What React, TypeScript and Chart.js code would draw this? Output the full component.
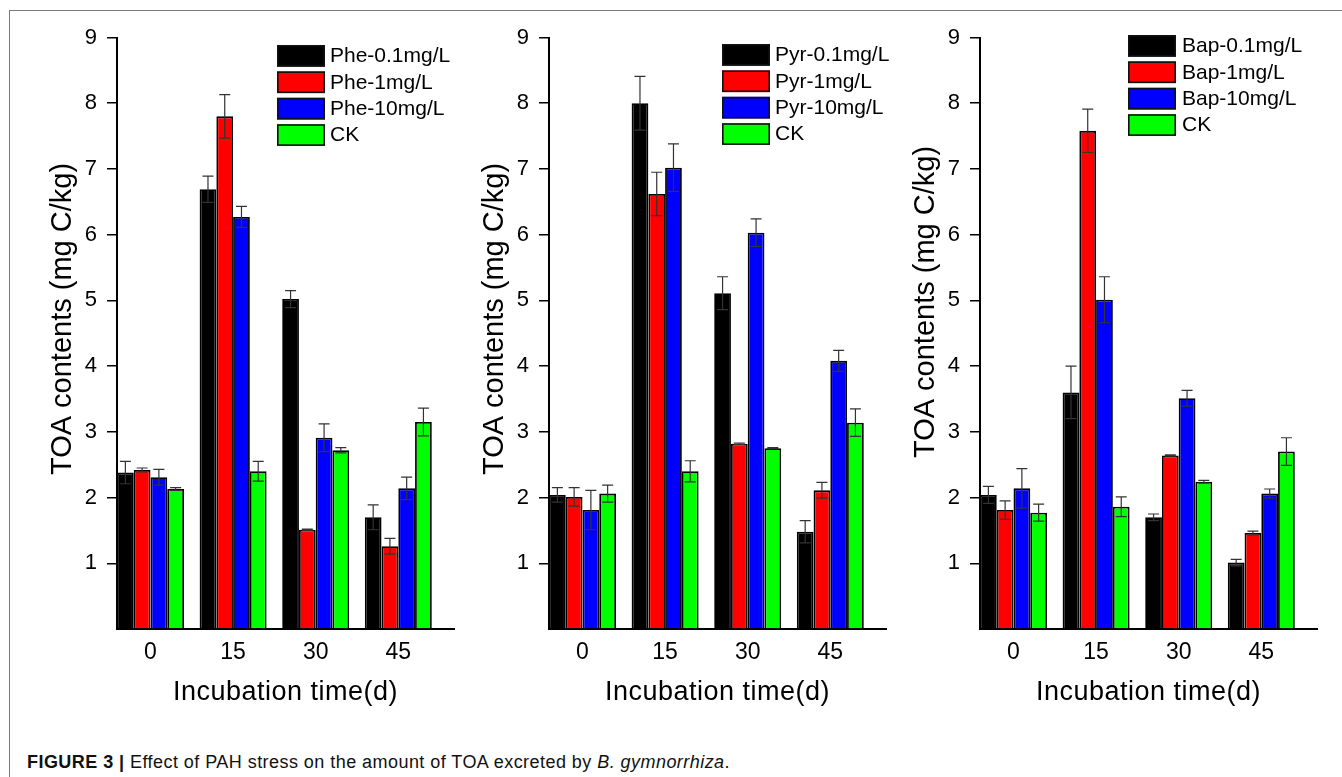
import React, { useEffect, useRef } from 'react';
import { Chart, registerables } from 'chart.js';

Chart.register(...registerables);

// ---------------- data ----------------
const xLabels = ['0', '15', '30', '45'];
const yTicks = [0, 1, 2, 3, 4, 5, 6, 7, 8, 9];
const seriesColors = ['#000000', '#ff0000', '#0000ff', '#00ff00'];
const yTitle = 'TOA contents (mg C/kg)';
const xTitle = 'Incubation time(d)';

const pheNames = ['Phe-0.1mg/L', 'Phe-1mg/L', 'Phe-10mg/L', 'CK'];
const phe01 = [2.38, 6.69, 5.02, 1.7];
const phe01Err = [0.17, 0.2, 0.13, 0.19];
const phe1 = [2.42, 7.8, 1.51, 1.26];
const phe1Err = [0.03, 0.33, 0.01, 0.12];
const phe10 = [2.31, 6.27, 2.91, 2.14];
const phe10Err = [0.12, 0.16, 0.21, 0.17];
const pheCK = [2.13, 2.4, 2.72, 3.15];
const pheCKErr = [0.02, 0.15, 0.04, 0.21];

const pyrNames = ['Pyr-0.1mg/L', 'Pyr-1mg/L', 'Pyr-10mg/L', 'CK'];
const pyr01 = [2.04, 8.0, 5.11, 1.48];
const pyr01Err = [0.11, 0.41, 0.25, 0.17];
const pyr1 = [2.01, 6.62, 2.82, 2.11];
const pyr1Err = [0.14, 0.33, 0.01, 0.12];
const pyr10 = [1.81, 7.02, 6.03, 4.08];
const pyr10Err = [0.3, 0.36, 0.21, 0.16];
const pyrCK = [2.06, 2.4, 2.75, 3.14];
const pyrCKErr = [0.13, 0.16, 0.01, 0.21];

const bapNames = ['Bap-0.1mg/L', 'Bap-1mg/L', 'Bap-10mg/L', 'CK'];
const bap01 = [2.04, 3.6, 1.7, 1.01];
const bap01Err = [0.13, 0.4, 0.05, 0.05];
const bap1 = [1.81, 7.58, 2.64, 1.46];
const bap1Err = [0.14, 0.33, 0.01, 0.03];
const bap10 = [2.14, 5.01, 3.51, 2.06];
const bap10Err = [0.3, 0.35, 0.12, 0.07];
const bapCK = [1.77, 1.86, 2.24, 2.7];
const bapCKErr = [0.13, 0.15, 0.02, 0.21];

// ---------------- layout ----------------
const FONT = "'Liberation Sans', Arial, Helvetica, sans-serif";
const H = 735;
const PLOT_TOP = 37.5;
const PLOT_BOTTOM = 629;
const PLOT_W = 337;
const X_AXIS_H = 60;
const GROUP_OFFSET = 33.5;
const GROUP_STEP = 82.6;
const GROUP_W = 67;

const panels = [
  {
    names: pheNames,
    values: [phe01, phe1, phe10, pheCK],
    errors: [phe01Err, phe1Err, phe10Err, pheCKErr],
    left: 0, width: 465, axisX: 117,
    legendX: 277, legendTop: 45, textX: 330, titleCY: 319,
  },
  {
    names: pyrNames,
    values: [pyr01, pyr1, pyr10, pyrCK],
    errors: [pyr01Err, pyr1Err, pyr10Err, pyrCKErr],
    left: 465, width: 440, axisX: 549,
    legendX: 722, legendTop: 44, textX: 775, titleCY: 319,
  },
  {
    names: bapNames,
    values: [bap01, bap1, bap10, bapCK],
    errors: [bap01Err, bap1Err, bap10Err, bapCKErr],
    left: 905, width: 437, axisX: 980,
    legendX: 1128, legendTop: 35, textX: 1182, titleCY: 302,
  },
];

type PanelDef = typeof panels[number];

function Panel({ p }: { p: PanelDef }) {
  const ref = useRef<HTMLCanvasElement | null>(null);

  useEffect(() => {
    if (!ref.current) return;
    const axisLeft = p.axisX - p.left;
    const xMin = -GROUP_OFFSET / GROUP_STEP;
    const xMax = (PLOT_W - GROUP_OFFSET) / GROUP_STEP;

    const overlay = {
      id: 'overlay',
      afterDatasetsDraw(chart: any) {
        const ctx = chart.ctx;
        const ys = chart.scales.y;
        ctx.save();
        ctx.strokeStyle = '#333333';
        ctx.lineWidth = 1.2;
        p.values.forEach((vals, i) => {
          const meta = chart.getDatasetMeta(i);
          meta.data.forEach((bar: any, j: number) => {
            const v = vals[j];
            const e = p.errors[i][j];
            const yt = ys.getPixelForValue(v + e);
            const yb = ys.getPixelForValue(v - e);
            const x = bar.x;
            ctx.beginPath();
            ctx.moveTo(x, yt);
            ctx.lineTo(x, yb);
            ctx.moveTo(x - 5.5, yt);
            ctx.lineTo(x + 5.5, yt);
            ctx.moveTo(x - 5.5, yb);
            ctx.lineTo(x + 5.5, yb);
            ctx.stroke();
          });
        });
        ctx.restore();
      },
      afterDraw(chart: any) {
        const ctx = chart.ctx;
        const ca = chart.chartArea;
        ctx.save();
        // legend
        ctx.font = `21px ${FONT}`;
        ctx.textAlign = 'left';
        ctx.textBaseline = 'middle';
        p.names.forEach((name, i) => {
          const top = p.legendTop + i * 26.4;
          const sx = p.legendX - p.left;
          ctx.fillStyle = seriesColors[i];
          ctx.fillRect(sx, top, 48, 21.7);
          ctx.strokeStyle = '#111111';
          ctx.lineWidth = 1.6;
          ctx.strokeRect(sx + 0.8, top + 0.8, 48 - 1.6, 21.7 - 1.6);
          ctx.fillStyle = '#000000';
          ctx.fillText(name, p.textX - p.left, top + 11.5);
        });
        // y title
        ctx.save();
        ctx.translate(p.axisX - 46 - p.left, p.titleCY);
        ctx.rotate(-Math.PI / 2);
        ctx.font = `29px ${FONT}`;
        ctx.textAlign = 'center';
        ctx.textBaseline = 'alphabetic';
        ctx.fillStyle = '#000000';
        ctx.fillText(yTitle, 0, 0);
        ctx.restore();
        // x title
        ctx.font = `27px ${FONT}`;
        (ctx as any).letterSpacing = '0.5px';
        ctx.textAlign = 'center';
        ctx.textBaseline = 'alphabetic';
        ctx.fillStyle = '#000000';
        ctx.fillText(xTitle, (ca.left + ca.right) / 2, 700);
        ctx.restore();
      },
    };

    const chart = new Chart(ref.current, {
      type: 'bar',
      data: {
        datasets: p.values.map((vals, i) => ({
          label: p.names[i],
          data: vals.map((v, j) => ({ x: j, y: v })),
          backgroundColor: seriesColors[i],
          borderColor: '#000000',
          borderWidth: 1.8,
          barPercentage: 1,
          categoryPercentage: GROUP_W / GROUP_STEP,
        })),
      },
      options: {
        responsive: false,
        maintainAspectRatio: false,
        animation: false,
        events: [],
        layout: {
          padding: {
            left: 0,
            top: PLOT_TOP,
            right: p.width - axisLeft - PLOT_W,
            bottom: H - PLOT_BOTTOM - X_AXIS_H,
          },
        },
        plugins: {
          legend: { display: false },
          tooltip: { enabled: false },
          title: { display: false },
        },
        scales: {
          x: {
            type: 'linear',
            min: xMin,
            max: xMax,
            offset: false,
            afterBuildTicks: (s: any) => {
              s.ticks = xLabels.map((_, i) => ({ value: i }));
            },
            afterFit: (s: any) => {
              s.height = X_AXIS_H;
            },
            grid: { display: false, drawTicks: false },
            border: { display: true, color: '#000000', width: 2 },
            ticks: {
              callback: (v: any) => xLabels[v] ?? '',
              font: { family: FONT, size: 23 },
              color: '#000000',
              padding: 10,
              autoSkip: false,
              maxRotation: 0,
            },
          },
          y: {
            min: 0,
            max: 9,
            afterBuildTicks: (s: any) => {
              s.ticks = yTicks.map((v) => ({ value: v }));
            },
            afterFit: (s: any) => {
              s.width = axisLeft;
            },
            grid: {
              drawOnChartArea: false,
              drawTicks: true,
              tickLength: 10,
              lineWidth: 1.5,
              color: (c: any) => (c.tick && c.tick.value === 0 ? 'rgba(0,0,0,0)' : '#000000'),
            },
            border: { display: true, color: '#000000', width: 2 },
            ticks: {
              callback: (v: any) => (v === 0 ? '' : String(v)),
              font: { family: FONT, size: 22 },
              color: '#000000',
              padding: 10,
            },
          },
        },
      } as any,
      plugins: [overlay],
    });
    return () => chart.destroy();
  }, [p]);

  return (
    <canvas
      ref={ref}
      width={p.width}
      height={H}
      style={{ position: 'absolute', left: p.left, top: 0, width: p.width, height: H }}
    />
  );
}

export default function App() {
  return (
    <div
      style={{
        position: 'absolute',
        left: 0,
        top: 0,
        width: 1342,
        height: 777,
        overflow: 'hidden',
        background: '#ffffff',
        fontFamily: FONT,
      }}
    >
      <div
        style={{
          position: 'absolute',
          left: 9,
          top: 10,
          width: 1400,
          height: 900,
          border: '1px solid #7a7a7a',
          boxSizing: 'border-box',
        }}
      />
      {panels.map((p, i) => (
        <Panel key={i} p={p} />
      ))}
      <div
        style={{
          position: 'absolute',
          left: 27,
          top: 752,
          fontSize: 18,
          letterSpacing: '0.45px',
          lineHeight: '20px',
          color: '#111111',
          whiteSpace: 'nowrap',
        }}
      >
        <b>FIGURE 3 |</b> Effect of PAH stress on the amount of TOA excreted by <i>B. gymnorrhiza</i>.
      </div>
    </div>
  );
}
